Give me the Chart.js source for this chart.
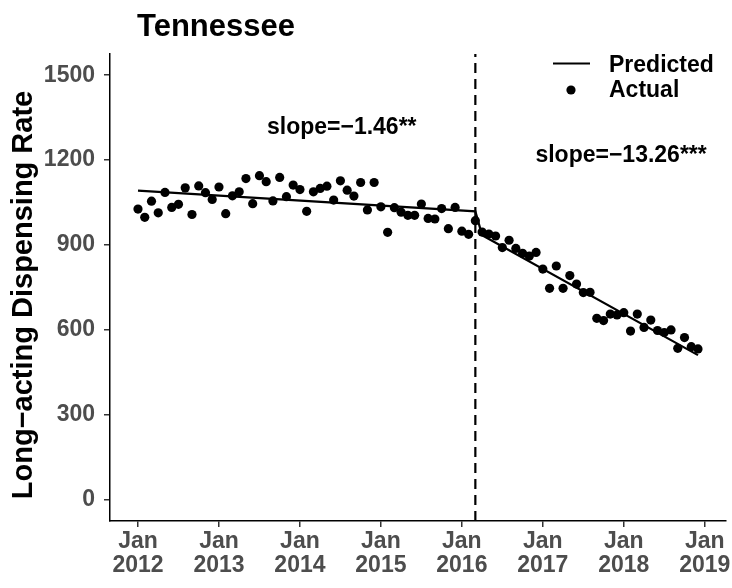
<!DOCTYPE html>
<html><head><meta charset="utf-8">
<script src="https://cdn.jsdelivr.net/npm/chart.js@4.4.0/dist/chart.umd.min.js"></script>
<style>html,body{margin:0;padding:0;background:#fff}#wrap{width:732px;height:588px;position:relative}</style>
</head><body><div id="wrap"><canvas id="c" width="732" height="588"></canvas></div>
<script>
// ---- data ----
const titleText = 'Tennessee';
const yAxisTitle = 'Long\u2212acting Dispensing Rate';
const xTickMonths = [0, 12, 24, 36, 48, 60, 72, 84];
const xTickLabels = [['Jan','2012'],['Jan','2013'],['Jan','2014'],['Jan','2015'],['Jan','2016'],['Jan','2017'],['Jan','2018'],['Jan','2019']];
const yTicks = [0, 300, 600, 900, 1200, 1500];
// monthly actual values, Jan 2012 .. Dec 2018
const actualValues = [
  1027, 998, 1055, 1014, 1086, 1033, 1044, 1102, 1008, 1109, 1085, 1061,
  1105, 1011, 1074, 1088, 1135, 1046, 1145, 1124, 1056, 1139, 1071, 1112,
  1096, 1019, 1088, 1100, 1108, 1059, 1127, 1094, 1073, 1121, 1024, 1121,
  1035, 945, 1032, 1016, 1005, 1005, 1045, 994, 992, 1029, 958, 1033,
  949, 938, 986, 946, 939, 932, 891, 917, 888, 871, 861, 874,
  815, 747, 826, 747, 792, 762, 732, 733, 641, 633, 656, 653,
  661, 596, 656, 609, 635, 598, 591, 600, 535, 573, 541, 533
];
const predictedMonths = [0, 50, 51, 83];
const predictedValues = [1092, 1019, 935, 511];
const interventionMonth = 50;
const slopeLabels = ['slope=\u22121.46**', 'slope=\u221213.26***'];
const slopeLabelMonths = [30.2, 71.6];
const slopeLabelValues = [1313, 1215];
const legendLabels = ['Predicted', 'Actual'];

const yMin = -75, yMax = 1575;
const xMin = -4.15, xMax = 87.15;
const FONT = '"Liberation Sans", Arial, Helvetica, sans-serif';
Chart.defaults.font.family = FONT;

const actualPoints = actualValues.map((v, i) => ({x: i, y: v}));
const predictedPoints = predictedMonths.map((m, i) => ({x: m, y: predictedValues[i]}));
const interventionPoints = [{x: interventionMonth, y: yMin}, {x: interventionMonth, y: yMax}];

const overlay = {
  id: 'overlay',
  afterDraw(chart) {
    const ctx = chart.ctx;
    const xs = chart.scales.x, ys = chart.scales.y;
    ctx.save();
    ctx.fillStyle = '#000';
    // title
    ctx.font = 'bold 31px ' + FONT;
    ctx.textAlign = 'left';
    ctx.textBaseline = 'alphabetic';
    ctx.fillText(titleText, 137, 36);
    // y axis title
    ctx.save();
    ctx.translate(32, 295);
    ctx.rotate(-Math.PI / 2);
    ctx.font = 'bold 29px ' + FONT;
    ctx.textAlign = 'center';
    ctx.fillText(yAxisTitle, 0, 0);
    ctx.restore();
    // slope annotations
    ctx.font = 'bold 23px ' + FONT;
    ctx.textAlign = 'center';
    ctx.textBaseline = 'middle';
    slopeLabels.forEach((t, i) => {
      ctx.fillText(t, xs.getPixelForValue(slopeLabelMonths[i]), ys.getPixelForValue(slopeLabelValues[i]));
    });
    // legend
    ctx.strokeStyle = '#000';
    ctx.lineWidth = 2.2;
    ctx.beginPath();
    ctx.moveTo(553, 63.5);
    ctx.lineTo(590, 63.5);
    ctx.stroke();
    ctx.beginPath();
    ctx.arc(571, 90, 4.6, 0, Math.PI * 2);
    ctx.fill();
    ctx.font = 'bold 23px ' + FONT;
    ctx.textAlign = 'left';
    ctx.textBaseline = 'alphabetic';
    ctx.fillText(legendLabels[0], 609, 72);
    ctx.fillText(legendLabels[1], 609, 97);
    ctx.restore();
  }
};

new Chart(document.getElementById('c'), {
  type: 'scatter',
  data: {
    datasets: [
      {
        type: 'scatter', label: 'Actual', data: actualPoints,
        pointRadius: 4.6, pointHoverRadius: 4.6, backgroundColor: '#000', borderWidth: 0, order: 2
      },
      {
        type: 'line', label: 'Predicted', data: predictedPoints,
        borderColor: '#000', borderWidth: 2.2, pointRadius: 0, fill: false, tension: 0, order: 1
      },
      {
        type: 'line', label: 'Intervention', data: interventionPoints,
        borderColor: '#000', borderWidth: 2.2, borderDash: [10, 6], pointRadius: 0, fill: false, order: 0
      }
    ]
  },
  options: {
    responsive: false,
    animation: false,
    events: [],
    layout: {padding: {left: 0, top: 54, right: 6, bottom: 0}},
    plugins: {legend: {display: false}, tooltip: {enabled: false}, title: {display: false}},
    scales: {
      x: {
        type: 'linear', min: xMin, max: xMax,
        afterBuildTicks: s => { s.ticks = xTickMonths.map(v => ({value: v})); },
        afterFit: s => { s.height = 67; s.paddingLeft = 0; s.paddingRight = 0; },
        ticks: {
          autoSkip: false, maxRotation: 0, minRotation: 0, padding: 3,
          color: '#4D4D4D', font: {size: 23, weight: 'bold', lineHeight: 1.04},
          callback: (v, i) => xTickLabels[i]
        },
        grid: {drawOnChartArea: false, drawTicks: true, tickLength: 6, color: '#333', lineWidth: 1.5},
        border: {display: true, color: '#000', width: 1.5}
      },
      y: {
        type: 'linear', min: yMin, max: yMax,
        afterBuildTicks: s => { s.ticks = yTicks.map(v => ({value: v})); },
        afterFit: s => { s.width = 110; s.paddingTop = 0; s.paddingBottom = 0; },
        ticks: {
          padding: 9, color: '#4D4D4D', font: {size: 23, weight: 'bold'},
          callback: v => String(v)
        },
        grid: {drawOnChartArea: false, drawTicks: true, tickLength: 6, color: '#333', lineWidth: 1.5},
        border: {display: true, color: '#000', width: 1.5}
      }
    }
  },
  plugins: [overlay]
});
</script>
</body></html>
